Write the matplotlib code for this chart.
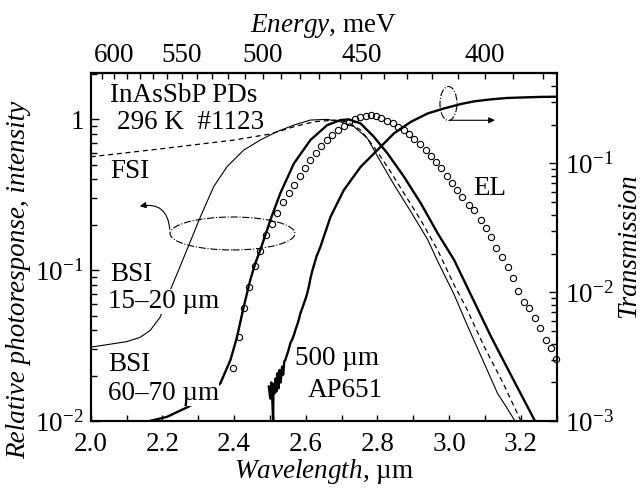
import numpy as np
import matplotlib
matplotlib.use("Agg")
import matplotlib.pyplot as plt
from matplotlib.patches import Ellipse
from matplotlib.ticker import MultipleLocator, FixedLocator, FixedFormatter, LogLocator, NullFormatter

# ---- style ----
plt.rcParams["font.family"] = "Liberation Serif"
plt.rcParams["mathtext.fontset"] = "custom"
plt.rcParams["mathtext.rm"] = "Liberation Serif"
plt.rcParams["mathtext.it"] = "Liberation Serif:italic"
plt.rcParams["axes.linewidth"] = 1.5
FS = 19.5

# ---- data ----
# BSI 15-20 um (thin solid)
bsi15_wl = [2.0, 2.054, 2.10, 2.138, 2.166, 2.194, 2.222, 2.245, 2.268, 2.306, 2.343,
            2.38, 2.427, 2.473, 2.52, 2.567, 2.613, 2.66, 2.697, 2.735, 2.772, 2.80,
            2.846, 2.893, 2.94, 2.968, 3.014, 3.051, 3.089, 3.135, 3.159, 3.182]
bsi15_val = [0.031, 0.0324, 0.0337, 0.036, 0.040, 0.049, 0.074, 0.10, 0.136, 0.226, 0.358,
             0.485, 0.626, 0.73, 0.83, 0.917, 0.99, 1.0, 0.964, 0.894, 0.75, 0.57,
             0.37, 0.245, 0.16, 0.115, 0.069, 0.043, 0.027, 0.0153, 0.0125, 0.0102]

# FSI (dashed)
fsi_wl = [2.0, 2.2, 2.4, 2.501, 2.567, 2.623, 2.68, 2.716, 2.753, 2.79, 2.828, 2.874,
          2.921, 2.968, 3.014, 3.05, 3.098, 3.15, 3.199]
fsi_val = [0.565, 0.64, 0.73, 0.80, 0.894, 0.964, 0.99, 0.964, 0.85, 0.658, 0.485, 0.324,
           0.215, 0.136, 0.08, 0.055, 0.0312, 0.018, 0.0102]

# BSI 60-70 um (thick solid)
bsi60_wl = [2.161, 2.213, 2.273, 2.32, 2.362, 2.39, 2.408, 2.427, 2.445, 2.459, 2.473,
            2.492, 2.501, 2.529, 2.567, 2.613, 2.66, 2.697, 2.72, 2.753, 2.79, 2.828,
            2.874, 2.921, 2.968, 3.014, 3.117, 3.177, 3.238]
bsi60_val = [0.0100, 0.0107, 0.0125, 0.0145, 0.0179, 0.0255, 0.036, 0.0575, 0.086, 0.111, 0.136,
             0.185, 0.215, 0.324, 0.511, 0.73, 0.917, 0.99, 1.0, 0.94, 0.767, 0.595,
             0.417, 0.278, 0.176, 0.117, 0.0363, 0.0193, 0.0102]

# EL (open circles)
el_wl = [2.397, 2.415, 2.427, 2.443, 2.459, 2.473, 2.490, 2.506, 2.520, 2.537, 2.553,
         2.567, 2.583, 2.597, 2.612, 2.628, 2.643, 2.658, 2.674, 2.690, 2.706, 2.720,
         2.736, 2.751, 2.767, 2.781, 2.795, 2.811, 2.826, 2.842, 2.858, 2.873, 2.888,
         2.902, 2.919, 2.935, 2.949, 2.963, 2.977, 2.994, 3.008, 3.022, 3.037, 3.056,
         3.070, 3.089, 3.103, 3.117, 3.131, 3.148, 3.163, 3.177, 3.193, 3.208, 3.224,
         3.240, 3.254, 3.270, 3.284, 3.298]
el_val = [0.0226, 0.036, 0.0562, 0.078, 0.107, 0.135, 0.172, 0.204, 0.240, 0.285, 0.324,
          0.367, 0.421, 0.474, 0.537, 0.601, 0.666, 0.729, 0.787, 0.850, 0.903, 0.955,
          1.000, 1.040, 1.056, 1.070, 1.050, 1.015, 0.980, 0.940, 0.894, 0.850, 0.800,
          0.740, 0.683, 0.626, 0.574, 0.524, 0.474, 0.421, 0.377, 0.340, 0.307, 0.270,
          0.251, 0.215, 0.190, 0.167, 0.140, 0.122, 0.106, 0.0885, 0.0732, 0.062, 0.056,
          0.048, 0.0418, 0.0345, 0.0305, 0.026]

# AP651 500 um transmission (right axis)
ap_wl = [2.497, 2.501, 2.504, 2.507, 2.509, 2.510, 2.513, 2.516, 2.518, 2.521, 2.524,
         2.527, 2.530, 2.534, 2.537, 2.540, 2.543, 2.548, 2.552, 2.557, 2.562, 2.567,
         2.571, 2.576, 2.581, 2.585, 2.590, 2.595, 2.600, 2.604, 2.609, 2.613, 2.618,
         2.623, 2.630, 2.641, 2.669, 2.706, 2.753, 2.80, 2.846, 2.893, 2.94, 2.986,
         3.033, 3.07, 3.117, 3.163, 3.256, 3.30]
ap_tr = [0.00186, 0.00150, 0.00200, 0.00140, 0.00100, 0.00195, 0.00165, 0.00215, 0.00170,
         0.00236, 0.00180, 0.00250, 0.00200, 0.00265, 0.00230, 0.00290, 0.00300, 0.00330,
         0.00357, 0.00403, 0.00430, 0.00467, 0.00510, 0.00558, 0.00620, 0.00687, 0.00750,
         0.00822, 0.00900, 0.00982, 0.0112, 0.0128, 0.0146, 0.0163, 0.0190, 0.0226,
         0.0385, 0.062, 0.094, 0.127, 0.171, 0.21, 0.244, 0.267, 0.289, 0.303, 0.314,
         0.322, 0.328, 0.329]

energy_ticks = [600, 550, 500, 450, 400]
HC = 1239.84  # meV*um


def wl_to_e(x):
    x = np.asarray(x, dtype=float)
    with np.errstate(divide="ignore"):
        return HC / x


# ---- figure ----
fig = plt.figure(figsize=(6.4, 4.88), dpi=100)
ax = fig.add_axes([0.1417, 0.1367, 0.7281, 0.7131])

ax.plot(bsi15_wl, bsi15_val, color="k", lw=0.8)
ax.plot(fsi_wl, fsi_val, color="k", lw=0.9, ls=(0, (4, 3)))
ax.plot(bsi60_wl, bsi60_val, color="k", lw=1.7)
ax.plot(el_wl, el_val, "o", mfc="none", mec="k", ms=4.5, mew=0.8, clip_on=False, zorder=3)

ax.set_yscale("log")
ax.set_xlim(2.0, 3.3)
ax.set_ylim(0.01, 2.02)
ax.xaxis.set_major_locator(MultipleLocator(0.2))
ax.xaxis.set_minor_locator(MultipleLocator(0.1))
ax.xaxis.set_major_formatter(matplotlib.ticker.FormatStrFormatter("%.1f"))
ax.yaxis.set_major_locator(FixedLocator([0.01, 0.1, 1]))
ax.yaxis.set_major_formatter(FixedFormatter([r"$10^{-2}$", r"$10^{-1}$", "1"]))
ax.yaxis.set_minor_locator(LogLocator(base=10, subs=np.arange(2, 10)))
ax.yaxis.set_minor_formatter(NullFormatter())
ax.tick_params(axis="both", which="both", direction="in", top=False, right=False,
               labelsize=FS, width=1.0)
ax.tick_params(axis="y", which="major", length=6, pad=5)
ax.tick_params(axis="y", which="minor", length=4)
ax.tick_params(axis="x", which="both", length=4, pad=8)
ax.set_xlabel(r"$\mathit{Wavelength}$, µm", fontsize=FS, labelpad=0)

# right axis: transmission
ax2 = ax.twinx()
ax2.plot(ap_wl, ap_tr, color="k", lw=1.7)
ax2.set_yscale("log")
ax2.set_ylim(1e-3, 0.5)
ax2.yaxis.set_major_locator(FixedLocator([1e-3, 1e-2, 1e-1]))
ax2.yaxis.set_major_formatter(FixedFormatter([r"$10^{-3}$", r"$10^{-2}$", r"$10^{-1}$"]))
ax2.yaxis.set_minor_locator(LogLocator(base=10, subs=np.arange(2, 10)))
ax2.yaxis.set_minor_formatter(NullFormatter())
ax2.tick_params(axis="y", which="both", direction="in", labelsize=FS, width=1.0, pad=6)
ax2.tick_params(axis="y", which="major", length=6)
ax2.tick_params(axis="y", which="minor", length=4)

# top axis: energy
sec = ax.secondary_xaxis("top", functions=(wl_to_e, wl_to_e))
sec.set_xticks(energy_ticks)
sec.xaxis.set_minor_locator(FixedLocator(np.arange(380, 630, 10)))
sec.tick_params(which="both", direction="in", length=4, width=1.0, labelsize=FS, pad=4)
sec.set_xlabel(r"$\mathit{Energy}$, meV", fontsize=FS, labelpad=8)

# axis titles on the sides
fig.text(19 / 640, 1 - 280 / 488, "Relative photoresponse, intensity", rotation=90,
         fontsize=FS, style="italic", ha="center", va="center")
fig.text(629 / 640, 1 - 246 / 488, "Transmission", rotation=90,
         fontsize=FS, style="italic", ha="center", va="center")

# annotations
tr = ax.transAxes
ax.text(0.0414, 0.9376, "InAsSbP PDs", transform=tr, fontsize=FS, va="center")
ax.text(0.0564, 0.8586, "296 K  #1123", transform=tr, fontsize=FS, va="center")
ax.text(0.0414, 0.7178, "FSI", transform=tr, fontsize=FS, va="center")
ax.text(0.0414, 0.4204, "BSI", transform=tr, fontsize=FS, va="center")
ax.text(0.037, 0.3443, "15–20 µm", transform=tr, fontsize=FS, va="center", zorder=4,
        bbox=dict(facecolor="white", edgecolor="none", pad=0))
ax.text(0.037, 0.1618, "BSI", transform=tr, fontsize=FS, va="center")
ax.text(0.037, 0.0799, "60–70 µm", transform=tr, fontsize=FS, va="center", zorder=4,
        bbox=dict(facecolor="white", edgecolor="none", pad=0))
ax.text(0.4384, 0.1805, "500 µm", transform=tr, fontsize=FS, va="center")
ax.text(0.4659, 0.0899, "AP651", transform=tr, fontsize=FS, va="center")
ax.text(0.8204, 0.669, "EL", transform=tr, fontsize=FS, va="center")

# legend ellipses and arrows
ax.add_patch(Ellipse((0.3043, 0.5397), 0.268, 0.0948, transform=tr, fill=False,
                     ls="-.", lw=0.8, ec="k"))
ax.add_patch(Ellipse((0.7678, 0.9132), 0.0365, 0.0977, transform=tr, fill=False,
                     ls="-.", lw=0.8, ec="k"))
ax.annotate("", xy=(0.0994, 0.6164), xytext=(0.170, 0.544), xycoords="axes fraction",
            arrowprops=dict(arrowstyle="-|>", connectionstyle="arc3,rad=0.6",
                            color="k", lw=0.8, mutation_scale=9))
ax.annotate("", xy=(0.8676, 0.865), xytext=(0.771, 0.865), xycoords="axes fraction",
            arrowprops=dict(arrowstyle="-|>", color="k", lw=0.8, mutation_scale=9,
                            shrinkA=0, shrinkB=0))

fig.savefig("out.png", dpi=100)
